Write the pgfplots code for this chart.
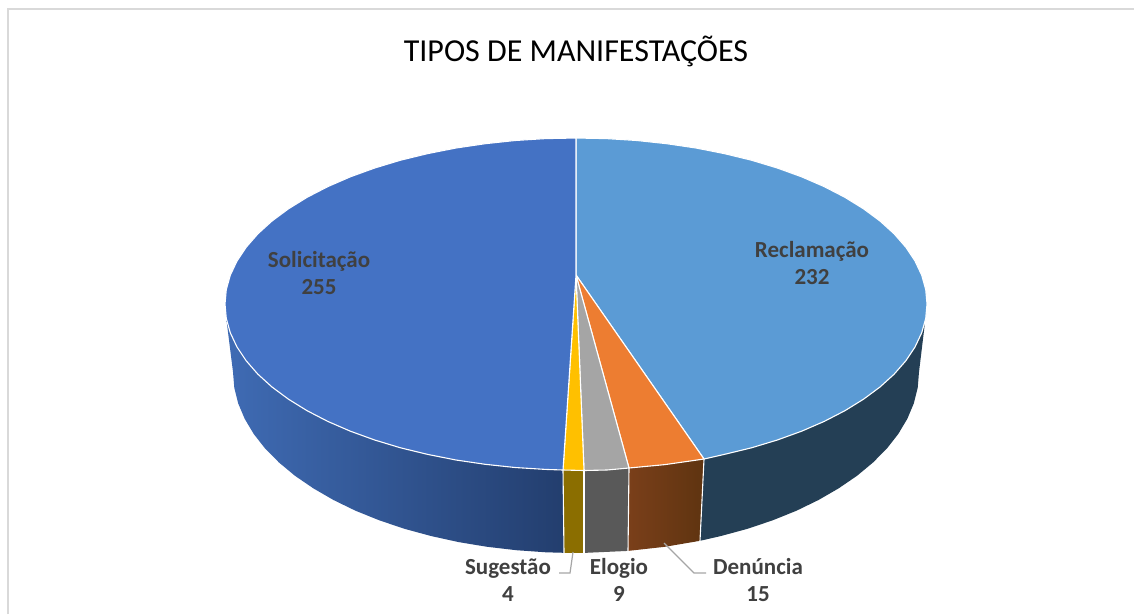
\documentclass[border=0pt]{standalone}
\usepackage{fontspec}
\setmainfont{Carlito}
\usepackage{pgfplots}
\pgfplotsset{compat=1.18}
\definecolor{cSol}{HTML}{4472C4}
\definecolor{cRec}{HTML}{5B9BD5}
\definecolor{cDen}{HTML}{ED7D31}
\definecolor{cElo}{HTML}{A5A5A5}
\definecolor{cSug}{HTML}{FFC000}
\definecolor{sSolL}{HTML}{3F6BB4}
\definecolor{sSolR}{HTML}{233E6E}
\definecolor{sRec}{HTML}{243F55}
\definecolor{sDenL}{HTML}{7A3F1A}
\definecolor{sDenR}{HTML}{5F3410}
\definecolor{sElo}{HTML}{595959}
\definecolor{sSug}{HTML}{8B6E00}
\definecolor{txt}{HTML}{404040}
\definecolor{frameC}{HTML}{D9D9D9}
\definecolor{lead}{HTML}{A6A6A6}
\begin{document}
\begin{tikzpicture}
\begin{axis}[scale only axis, width=1134pt, height=614pt, xmin=0, xmax=1134, ymin=0, ymax=614,
  y dir=reverse, hide axis, clip=true]
% page area
\addplot[draw=none, fill=white] coordinates {(0,0)(1134,0)(1134,614)(0,614)} -- cycle;
% frame
\addplot[frameC, line width=2pt] coordinates {(8,614)(8,9)(1134,9)};
% side walls
\addplot[draw=none, left color=sSolL, right color=sSolR] coordinates {
(226.3,318.5)(230.3,332.8)(237,347)(246.2,360.8)(257.9,374.2)(272,387)(288.5,399.2)(307.1,410.7)(327.8,421.4)(350.4,431.2)(374.7,440)(400.5,447.8)(427.7,454.4)(456,460)(485.2,464.3)(515.1,467.5)(545.4,469.4)(563,470)
(564,552.8)(546.1,552.3)(516.4,550.2)(487.2,546.8)(458.7,542.1)(431,536)(404.5,528.8)(379.3,520.3)(355.5,510.7)(333.5,500)(313.3,488.3)(295,475.8)(279,462.5)(265.1,448.5)(253.7,433.9)(244.7,418.8)(238.2,403.4)(234.3,387.8)(233,372)
} -- cycle;
\addplot[draw=none, fill=sSug] coordinates {(563,470)(584,470.5)(584,552.9)(564,552.8)} -- cycle;
\addplot[draw=none, fill=sElo] coordinates {(584,470.5)(629,468)(628,550.9)(584,552.9)} -- cycle;
\addplot[draw=none, left color=sDenL, right color=sDenR] coordinates {(629,468)(665,464.6)(704,459)(700,540.8)(664.8,546.8)(628,550.9)} -- cycle;
\addplot[draw=none, fill=sRec] coordinates {
(704,459)(724.3,454.4)(751.5,447.8)(777.3,440)(801.6,431.2)(824.2,421.4)(844.9,410.7)(863.5,399.2)(880,387)(894.1,374.2)(905.8,360.8)(915,347)(921.7,332.8)(924.8,324)
(919,372)(917.7,387.8)(913.8,403.4)(907.3,418.8)(898.3,433.9)(886.9,448.5)(873,462.5)(857,475.8)(838.7,488.3)(818.5,500)(796.5,510.7)(772.7,520.3)(747.5,528.8)(721,536)(700,540.8)
} -- cycle;
% separators on the wall
\addplot[white, line width=1.1pt] coordinates {(563,470)(564,552.8)};
\addplot[white, line width=1.1pt] coordinates {(584,470.5)(584,552.9)};
\addplot[white, line width=1.1pt] coordinates {(629,468)(628,550.9)};
\addplot[white, line width=1.1pt] coordinates {(704,459)(700,540.8)};
% top wedges
\addplot[draw=white, line width=1.1pt, fill=cRec, line join=round] coordinates {
(576,275)(576,138)(606.6,138.6)(636.9,140.5)(666.8,143.7)(696,148)(724.3,153.6)(751.5,160.2)(777.3,168)(801.6,176.8)(824.2,186.6)(844.9,197.3)(863.5,208.8)(880,221)(894.1,233.8)(905.8,247.2)(915,261)(921.7,275.2)(925.7,289.5)(927,304)
(925.7,318.5)(921.7,332.8)(915,347)(905.8,360.8)(894.1,374.2)(880,387)(863.5,399.2)(844.9,410.7)(824.2,421.4)(801.6,431.2)(777.3,440)(751.5,447.8)(724.3,454.4)(704,459)
} -- cycle;
\addplot[draw=white, line width=1.1pt, fill=cDen, line join=round] coordinates {(576,275)(704,459)(665,464.6)(629,468)} -- cycle;
\addplot[draw=white, line width=1.1pt, fill=cElo, line join=round] coordinates {(576,275)(629,468)(607,470)(584,470.5)} -- cycle;
\addplot[draw=white, line width=1.1pt, fill=cSug, line join=round] coordinates {(576,275)(584,470.5)(563,470)} -- cycle;
\addplot[draw=white, line width=1.1pt, fill=cSol, line join=round] coordinates {
(576,275)(563,470)(545.4,469.4)(515.1,467.5)(485.2,464.3)(456,460)(427.7,454.4)(400.5,447.8)(374.7,440)(350.4,431.2)(327.8,421.4)(307.1,410.7)(288.5,399.2)(272,387)(257.9,374.2)(246.2,360.8)(237,347)(230.3,332.8)(226.3,318.5)(225,304)
(226.3,289.5)(230.3,275.2)(237,261)(246.2,247.2)(257.9,233.8)(272,221)(288.5,208.8)(307.1,197.3)(327.8,186.6)(350.4,176.8)(374.7,168)(400.5,160.2)(427.7,153.6)(456,148)(485.2,143.7)(515.1,140.5)(545.4,138.6)(576,138)
} -- cycle;
% leader lines
\addplot[lead, line width=1.2pt] coordinates {(573,552)(570,573)(559,573)};
\addplot[lead, line width=1.2pt] coordinates {(664,543)(694,573)(706,573)};
% texts
\node[anchor=center] at (axis cs:576,51) {\fontsize{32}{38}\selectfont TIPOS DE MANIFESTAÇÕES};
\begin{scope}[every node/.style={align=center, text=txt, font=\bfseries\fontsize{23}{27}\selectfont}]
\node at (axis cs:319,273) {Solicitação\\255};
\node at (axis cs:812,263) {Reclamação\\232};
\node at (axis cs:508,580) {Sugestão\\4};
\node at (axis cs:619,580) {Elogio\\9};
\node at (axis cs:758,580) {Denúncia\\15};
\end{scope}
\end{axis}
\end{tikzpicture}
\end{document}
